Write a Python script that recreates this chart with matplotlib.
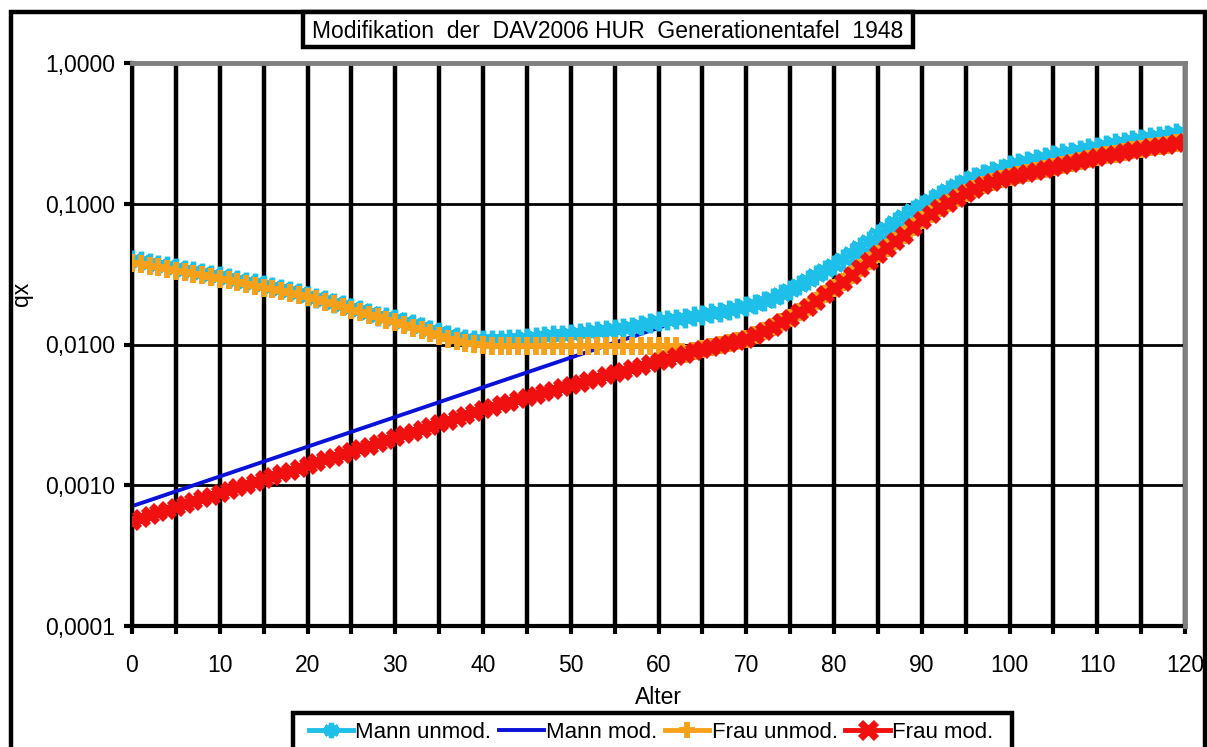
import numpy as np
import matplotlib
matplotlib.use('Agg')
import matplotlib.pyplot as plt
from matplotlib.patches import Rectangle
from matplotlib.ticker import FixedLocator, FixedFormatter, NullFormatter

plt.rcParams['font.family'] = ['Liberation Sans', 'DejaVu Sans']

# --- data (one value per age 0..120) ---
alter = list(range(0, 121))

mann_unmod = [
    0.0400, 0.0390, 0.0380, 0.0370, 0.0360, 0.0350, 0.0340, 0.0332, 0.0323, 0.0314,
    0.0305, 0.0297, 0.0289, 0.0280, 0.0272, 0.0264, 0.0256, 0.0248, 0.0240, 0.0231,
    0.0222, 0.0214, 0.0206, 0.0198, 0.0190, 0.0182, 0.0175, 0.0167, 0.0160, 0.0156,
    0.0152, 0.0145, 0.0139, 0.0133, 0.0127, 0.0122, 0.0117, 0.0113, 0.0110, 0.0108,
    0.0107, 0.0107, 0.0108, 0.0109, 0.0110, 0.0111, 0.0113, 0.0114, 0.0116, 0.0117,
    0.0119, 0.0121, 0.0123, 0.0125, 0.0127, 0.0129, 0.0131, 0.0134, 0.0137, 0.0142,
    0.0146, 0.0149, 0.0152, 0.0155, 0.0159, 0.0163, 0.0167, 0.0171, 0.0176, 0.0181,
    0.0187, 0.0195, 0.0204, 0.0215, 0.0229, 0.0245, 0.0264, 0.0285, 0.0310, 0.0338,
    0.0370, 0.0405, 0.0445, 0.0490, 0.0545, 0.0605, 0.0670, 0.0740, 0.0820, 0.0905,
    0.0980, 0.1070, 0.1160, 0.1250, 0.1350, 0.1450, 0.1540, 0.1620, 0.1700, 0.1780,
    0.1880, 0.1950, 0.2020, 0.2090, 0.2160, 0.2230, 0.2290, 0.2350, 0.2410, 0.2470,
    0.2540, 0.2610, 0.2680, 0.2750, 0.2820, 0.2890, 0.2960, 0.3030, 0.3100, 0.3170,
    0.3250,
]

# Mann mod. runs straight (log scale) up to ~62, then joins Mann unmod.
mann_mod_jung = [
    0.000710, 0.000745, 0.000782, 0.000821, 0.000862, 0.000905, 0.000950, 0.000998, 0.001048, 0.001100,
    0.001155, 0.001212, 0.001273, 0.001336, 0.001403, 0.001473, 0.001546, 0.001623, 0.001704, 0.001789,
    0.001878, 0.001972, 0.002070, 0.002173, 0.002281, 0.002395, 0.002514, 0.002639, 0.002771, 0.002909,
    0.003054, 0.003206, 0.003365, 0.003533, 0.003709, 0.003894, 0.004088, 0.004291, 0.004505, 0.004729,
    0.004965, 0.005212, 0.005472, 0.005744, 0.006030, 0.006331, 0.006646, 0.006977, 0.007324, 0.007689,
    0.008072, 0.008474, 0.008896, 0.009339, 0.009804, 0.010290, 0.010810, 0.011340, 0.011910, 0.012500,
    0.013120, 0.013780, 0.014600,
]

frau_unmod_jung = [
    0.0380, 0.0371, 0.0362, 0.0353, 0.0344, 0.0335, 0.0327, 0.0318, 0.0310, 0.0302,
    0.0294, 0.0286, 0.0278, 0.0270, 0.0262, 0.0254, 0.0247, 0.0240, 0.0232, 0.0224,
    0.0216, 0.0209, 0.0201, 0.0193, 0.0185, 0.0177, 0.0170, 0.0163, 0.0156, 0.0150,
    0.0145, 0.0138, 0.0132, 0.0126, 0.0120, 0.0115, 0.0110, 0.0106, 0.0103, 0.0101,
    0.0099, 0.0098, 0.0098, 0.0097, 0.0097, 0.0097, 0.0097, 0.0097, 0.0097, 0.0097,
    0.0097, 0.0097, 0.0097, 0.0097, 0.0097, 0.0097, 0.0097, 0.0097, 0.0097, 0.0097,
    0.0097, 0.0097, 0.0097,
]

frau_mod = [
    0.000560, 0.000586, 0.000613, 0.000642, 0.000672, 0.000703, 0.000736, 0.000770, 0.000806, 0.000843,
    0.000883, 0.000924, 0.000967, 0.001012, 0.001059, 0.001108, 0.001160, 0.001214, 0.001270, 0.001330,
    0.001392, 0.001456, 0.001524, 0.001595, 0.001670, 0.001747, 0.001829, 0.001914, 0.002003, 0.002097,
    0.002194, 0.002297, 0.002404, 0.002516, 0.002633, 0.002756, 0.002884, 0.003019, 0.003159, 0.003307,
    0.003461, 0.003622, 0.003770, 0.003920, 0.004080, 0.004240, 0.004410, 0.004590, 0.004770, 0.004960,
    0.005160, 0.005370, 0.005580, 0.005810, 0.006040, 0.006280, 0.006530, 0.006790, 0.007060, 0.007340,
    0.007640, 0.007940, 0.008260, 0.008590, 0.008930, 0.009290, 0.009600, 0.009900, 0.010200, 0.010600,
    0.011000, 0.011700, 0.012500, 0.013400, 0.014400, 0.015500, 0.016900, 0.018500, 0.020500, 0.022800,
    0.025200, 0.028000, 0.031200, 0.035000, 0.039200, 0.043600, 0.048500, 0.054000, 0.060000, 0.068000,
    0.077000, 0.085000, 0.093000, 0.101000, 0.110000, 0.119000, 0.127000, 0.135000, 0.142000, 0.149000,
    0.156000, 0.161000, 0.166000, 0.171000, 0.176500, 0.182000, 0.188000, 0.194500, 0.201000, 0.207500,
    0.214000, 0.220500, 0.227000, 0.233500, 0.240000, 0.246500, 0.252000, 0.257500, 0.263000, 0.269000,
    0.275000,
]

mann_mod = mann_mod_jung + mann_unmod[len(mann_mod_jung):]
frau_unmod = frau_unmod_jung + frau_mod[len(frau_unmod_jung):]

y_ticks = [0.0001, 0.001, 0.01, 0.1, 1.0]
y_labels = ['0,0001', '0,0010', '0,0100', '0,1000', '1,0000']
x_major = list(range(0, 121, 10))
x_minor = list(range(5, 121, 10))

titel = 'Modifikation  der  DAV2006 HUR  Generationentafel  1948'

# --- figure ---
W, H = 1207, 747
fig = plt.figure(figsize=(W / 100, H / 100), dpi=100)
fig.patch.set_facecolor('white')
ax = fig.add_axes([132 / W, 1 - 626 / H, (1185 - 132) / W, (626 - 63) / H])

ax.plot(alter, mann_mod, color='#0a12d8', lw=2.8, label='Mann mod.', zorder=2.5)
ax.plot(alter, mann_unmod, color='#1ec0ea', lw=3.5, marker=(6, 2, 0), ms=14, mew=3.8,
        label='Mann unmod.', zorder=3)
ax.plot(alter, frau_unmod, color='#f7a11a', lw=3.5, marker='+', ms=13, mew=4.2,
        label='Frau unmod.', zorder=3.1)
ax.plot(alter, frau_mod, color='#f01010', lw=3.5, marker='x', ms=10, mew=5.2,
        label='Frau mod.', zorder=3.2)

ax.set_yscale('log')
ax.set_ylim(0.0001, 1.0)
ax.set_xlim(0, 120)
ax.yaxis.set_major_locator(FixedLocator(y_ticks))
ax.yaxis.set_major_formatter(FixedFormatter(y_labels))
ax.yaxis.set_minor_locator(FixedLocator([]))
ax.yaxis.set_minor_formatter(NullFormatter())
ax.xaxis.set_major_locator(FixedLocator(x_major))
ax.xaxis.set_minor_locator(FixedLocator(x_minor))

ax.grid(which='both', axis='x', color='black', lw=3.2, zorder=1)
ax.grid(which='major', axis='y', color='black', lw=2, zorder=1)
ax.set_axisbelow(True)

for s in ['left', 'bottom']:
    ax.spines[s].set_color('black')
    ax.spines[s].set_linewidth(3)
for s in ['top', 'right']:
    ax.spines[s].set_color('#808080')
    ax.spines[s].set_linewidth(3.5)
    ax.spines[s].set_zorder(5)

ax.tick_params(axis='both', which='both', direction='out', width=3, length=6,
               color='black', labelsize=16.5)
ax.tick_params(axis='x', pad=14)
ax.tick_params(axis='y', pad=6)
ax.set_ylabel('qx', fontsize=16.5)
ax.yaxis.set_label_coords(-0.094, 0.59)
ax.set_xlabel('Alter', fontsize=16.5, labelpad=7)

# outer frame (runs off the bottom of the picture, like the original)
fig.patches.append(Rectangle((11 / W, -0.2), (1205 - 11) / W, 1.2 - 12 / H,
                             transform=fig.transFigure, fill=False,
                             edgecolor='black', lw=3.2, zorder=0))

# title box
fig.patches.append(Rectangle((303 / W, 1 - 47 / H), (913 - 303) / W, 35 / H,
                             transform=fig.transFigure, fill=True, facecolor='white',
                             edgecolor='black', lw=3.2, zorder=2))
fig.text(608 / W, 1 - 31 / H, titel, ha='center', va='center', fontsize=16.5, zorder=3)

# legend box (also cut off by the picture edge)
fig.patches.append(Rectangle((293 / W, -0.2), (1012 - 293) / W, 0.2 + 1 - 713 / H,
                             transform=fig.transFigure, fill=True, facecolor='white',
                             edgecolor='black', lw=3.2, zorder=2))
handles, labels = ax.get_legend_handles_labels()
order = [1, 0, 2, 3]
leg = fig.legend([handles[i] for i in order], [labels[i] for i in order],
                 loc='center', bbox_to_anchor=(651 / W, 1 - 732 / H),
                 ncol=4, frameon=False, fontsize=16, handlelength=2.0,
                 handletextpad=0.1, columnspacing=0.35, borderpad=0)
for h in leg.legend_handles:
    h.set_markersize(11)

fig.savefig('out.png', dpi=100)
